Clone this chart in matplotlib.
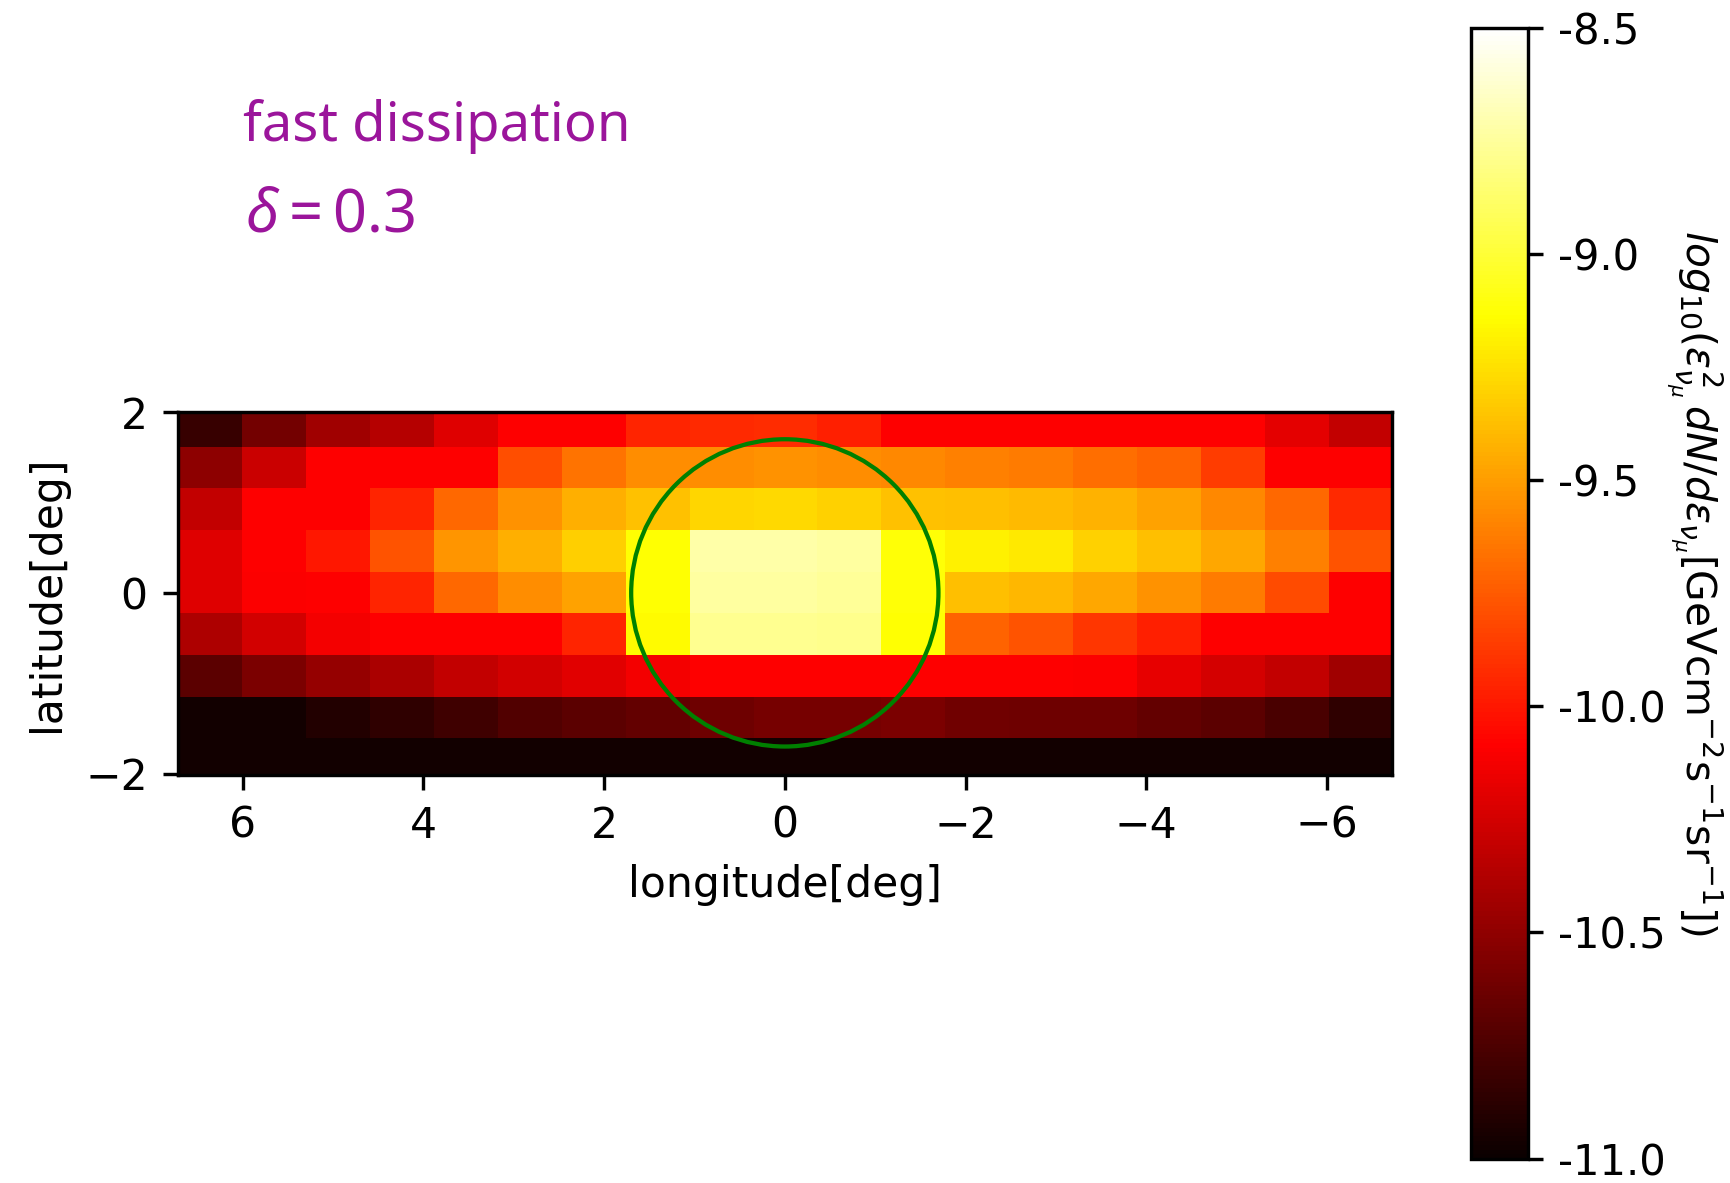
import numpy as np
import matplotlib
matplotlib.use("Agg")
import matplotlib.pyplot as plt
from matplotlib.patches import Circle

# log10 flux per pixel, rows from top (lat +2) to bottom (lat -2),
# columns from left (lon +6.7) to right (lon -6.7)
row1 = [-10.83, -10.60, -10.44, -10.36, -10.20, -10.09, -10.09, -9.95, -9.93, -9.92,
        -9.97, -10.09, -10.09, -10.09, -10.09, -10.09, -10.09, -10.18, -10.31]
row2 = [-10.51, -10.28, -10.09, -10.09, -10.09, -9.79, -9.66, -9.56, -9.56, -9.54,
        -9.56, -9.58, -9.61, -9.63, -9.68, -9.72, -9.86, -10.09, -10.09]
row3 = [-10.31, -10.09, -10.09, -9.95, -9.70, -9.54, -9.43, -9.36, -9.29, -9.28,
        -9.31, -9.36, -9.37, -9.39, -9.42, -9.48, -9.58, -9.70, -9.93]
row4 = [-10.20, -10.09, -10.00, -9.77, -9.53, -9.43, -9.32, -9.13, -8.72, -8.72,
        -8.74, -9.12, -9.19, -9.22, -9.31, -9.37, -9.46, -9.61, -9.77]
row5 = [-10.20, -10.10, -10.09, -9.95, -9.70, -9.56, -9.48, -9.13, -8.74, -8.74,
        -8.76, -9.12, -9.37, -9.40, -9.46, -9.54, -9.63, -9.80, -10.09]
row6 = [-10.39, -10.25, -10.13, -10.09, -10.09, -10.09, -9.95, -9.15, -8.78, -8.78,
        -8.79, -9.13, -9.72, -9.77, -9.88, -9.97, -10.09, -10.09, -10.09]
row7 = [-10.69, -10.58, -10.48, -10.40, -10.31, -10.25, -10.19, -10.13, -10.09, -10.09,
        -10.09, -10.09, -10.09, -10.09, -10.10, -10.17, -10.24, -10.31, -10.44]
row8 = [-10.97, -10.97, -10.91, -10.86, -10.80, -10.73, -10.69, -10.66, -10.62, -10.59,
        -10.59, -10.58, -10.61, -10.62, -10.62, -10.66, -10.69, -10.76, -10.86]
row9 = [-10.97] * 19

flux = np.array([row1, row2, row3, row4, row5, row6, row7, row8, row9])

lon_max = 6.72
lat_max = 2.07
roi_radius = 1.7

cb_ticks = [-8.5, -9.0, -9.5, -10.0, -10.5, -11.0]
cb_labels = ["-8.5", "-9.0", "-9.5", "-10.0", "-10.5", "-11.0"]

plt.rcParams["mathtext.rm"] = "Noto Sans"
plt.rcParams["mathtext.it"] = "Noto Sans:italic"

DPI = 306
fig = plt.figure(figsize=(1730 / DPI, 1183 / DPI), dpi=DPI)
ax = fig.add_axes([0.1021, 0.3449, 0.7031, 0.3071])

im = ax.imshow(flux, cmap="hot", vmin=-11.0, vmax=-8.5, interpolation="nearest",
               extent=[lon_max, -lon_max, -lat_max, lat_max], aspect="equal")
ax.set_xlim(lon_max, -lon_max)
ax.set_ylim(-2.015, 2.005)
ax.set_xticks([6, 4, 2, 0, -2, -4, -6])
ax.set_yticks([2, 0, -2])
ax.add_patch(Circle((0, 0), roi_radius, fill=False, edgecolor="green", lw=1.0))

ax.set_xlabel("longitude[deg]")
ax.set_ylabel("latitude[deg]")

fig.text(0.1405, 0.8808, "fast dissipation", color="#9b159b", fontsize=12.8,
         family="Noto Sans", va="baseline")
fig.text(0.1416, 0.8047, r"$\delta = 0.3$", color="#9b159b", fontsize=14,
         va="baseline", math_fontfamily="custom")

cax = fig.add_axes([0.8501, 0.0207, 0.0331, 0.956])
cb = fig.colorbar(im, cax=cax)
cb.set_ticks(cb_ticks)
cb.set_ticklabels(cb_labels)
cax.tick_params(labelsize=9.8)
fig.text(0.979, 0.507,
         r"$log_{10}(\epsilon^2_{\nu_\mu}\,dN/d\epsilon_{\nu_\mu}[\mathrm{GeVcm^{-2}s^{-1}sr^{-1}}])$",
         rotation=270, ha="center", va="center", fontsize=9.6)

fig.savefig("out.png", dpi=DPI)
